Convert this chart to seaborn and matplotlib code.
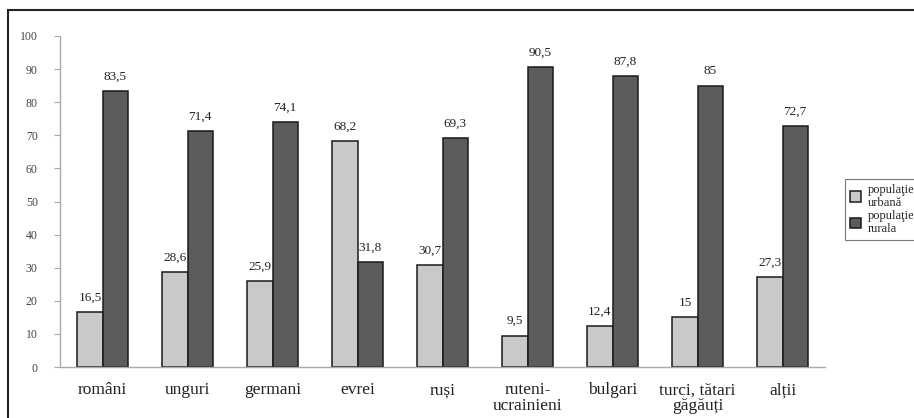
import matplotlib
matplotlib.use("Agg")
import matplotlib.pyplot as plt
import seaborn as sns
import pandas as pd
from matplotlib.patches import Rectangle

categories = ["români", "unguri", "germani", "evrei", "ruși", "ruteni-\nucrainieni",
              "bulgari", "turci, tătari\ngăgăuți", "alții"]
urban = [16.5, 28.6, 25.9, 68.2, 30.7, 9.5, 12.4, 15, 27.3]
rural = [83.5, 71.4, 74.1, 31.8, 69.3, 90.5, 87.8, 85, 72.7]
series = ["populaţie\nurbană", "populaţie\nrurala"]
yticks = [0, 10, 20, 30, 40, 50, 60, 70, 80, 90, 100]

df = pd.DataFrame({
    "cat": categories * 2,
    "val": urban + rural,
    "ser": [series[0]] * len(categories) + [series[1]] * len(categories),
})

sns.set_style("white")
plt.rcParams["font.family"] = ["Liberation Serif", "DejaVu Serif"]

fig = plt.figure(figsize=(9.14, 4.18), dpi=100)
ax = fig.add_axes([60/914, 1-367/418, 765/914, (367-36)/418])

sns.barplot(data=df, x="cat", y="val", hue="ser", order=categories, hue_order=series,
            palette=["#c9c9c9", "#5c5c5c"], edgecolor="#1a1a1a", linewidth=1.1,
            width=0.59, gap=0, ax=ax, legend=True)

for cont in ax.containers:
    labels = [f"{v:g}".replace(".", ",") for v in cont.datavalues]
    ax.bar_label(cont, labels=labels, padding=6, fontsize=9.5, color="#222222")

ax.set_xlim(-0.5, 8.5)
ax.set_ylim(0, 100)
ax.set_yticks(yticks)
ax.set_yticklabels([str(t) for t in yticks], fontsize=8.5, color="#444444")
ax.set_xticks(range(len(categories)))
ax.set_xticklabels(categories, fontsize=12.5, color="#222222", linespacing=0.95)
ax.set_xticks([i + 0.5 for i in range(-1, len(categories))], minor=True)
ax.tick_params(axis="x", which="major", length=0, pad=11)
ax.tick_params(axis="x", which="minor", length=3, color="#aaaaaa", direction="out")
ax.tick_params(axis="y", length=4, color="#aaaaaa", direction="out", left=True, pad=12)
ax.set_xlabel("")
ax.set_ylabel("")
for s in ["top", "right"]:
    ax.spines[s].set_visible(False)
for s in ["left", "bottom"]:
    ax.spines[s].set_color("#aaaaaa")
    ax.spines[s].set_linewidth(1.0)
ax.patch.set_alpha(0)

leg = ax.legend(loc="upper left", bbox_to_anchor=(845/914, 1-179/418),
                bbox_transform=fig.transFigure, fontsize=9, frameon=True,
                fancybox=False, edgecolor="#555555", handlelength=0.9,
                handleheight=0.9, handletextpad=0.5, borderpad=0.4,
                labelspacing=0.1, borderaxespad=0)
leg.get_frame().set_linewidth(0.8)
for t in leg.get_texts():
    t.set_linespacing(1.1)

fig.patches.append(Rectangle((8/914, -0.2), 2.0, 1.2 - 10/418,
                             transform=fig.transFigure, fill=False,
                             edgecolor="#222222", linewidth=1.5))

fig.savefig("out.png", dpi=100)
